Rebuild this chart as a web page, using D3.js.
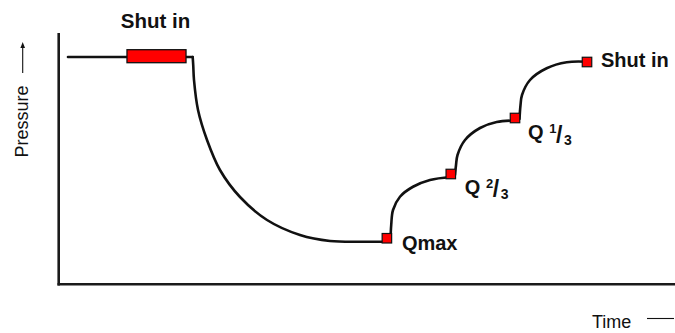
<!DOCTYPE html>
<html>
<head>
<meta charset="utf-8">
<script src="https://cdn.jsdelivr.net/npm/d3@7"></script>
<style>
  html, body { margin: 0; padding: 0; background: #fff; }
  svg { display: block; }
  text { font-family: "Liberation Sans", Arial, Helvetica, sans-serif; fill: #111; }
</style>
</head>
<body>
<svg id="chart" width="675" height="333"></svg>
<script>
// ---- data (time, pressure in arbitrary schematic units) ----
const flowTime = [1.5, 22.28];
const flowPressure = [90.8, 90.8];

const drawdownTime = [22.28, 22.37, 22.5, 23.17, 24.67, 26.83, 30.17, 34.67, 40.17, 45.17, 51.33, 54.83];
const drawdownPressure = [90.8, 87.6, 81.6, 69.6, 57.6, 45.6, 34.8, 25.6, 19.6, 17.2, 16.9, 16.9];

const build1Time = [55.25, 55.37, 55.67, 56.83, 59, 61.83, 65.33];
const build1Pressure = [17.6, 23.6, 29.6, 34.9, 38.9, 41.6, 42.8];

const build2Time = [66, 66.17, 66.42, 67.67, 70.17, 72.95, 76];
const build2Pressure = [43.6, 47.6, 51.6, 57.6, 62.4, 64.8, 65.4];

const build3Time = [76.75, 76.92, 77.17, 78.5, 81.28, 84.62, 88];
const build3Pressure = [66, 71.6, 75.6, 81.6, 86.3, 88.7, 88.9];

const shutInStart = 11.33, shutInEnd = 21.17, shutInPressure = 90.8;
const shutInLabel = "Shut in";

const markerNames = ["Qmax", "Q 2/3", "Q 1/3", "Shut in"];
const markerTime = [54.65, 65.3, 76.0, 88.0];
const markerPressure = [18.3, 44.0, 66.4, 88.8];

const yLabel = "Pressure";
const xLabel = "Time";

// ---- layout ----
const svg = d3.select("#chart");
const x = d3.scaleLinear().domain([0, 100]).range([59, 659]);
const y = d3.scaleLinear().domain([0, 100]).range([284, 34]);

// axes (no ticks in the schematic)
svg.append("line").attr("x1", 58.7).attr("x2", 58.7).attr("y1", 33).attr("y2", 285.5)
  .attr("stroke", "#1a1a1a").attr("stroke-width", 2.6);
svg.append("line").attr("x1", 57.5).attr("x2", 675).attr("y1", 284.3).attr("y2", 284.3)
  .attr("stroke", "#1a1a1a").attr("stroke-width", 2.6);

// pressure curve, drawn segment by segment
const segments = [
  [flowTime, flowPressure],
  [drawdownTime, drawdownPressure],
  [build1Time, build1Pressure],
  [build2Time, build2Pressure],
  [build3Time, build3Pressure]
];
const lineGen = d3.line().x(d => x(d[0])).y(d => y(d[1])).curve(d3.curveCatmullRom.alpha(0.5));
svg.selectAll("path.seg").data(segments).join("path").attr("class", "seg")
  .attr("d", s => lineGen(s[0].map((t, i) => [t, s[1][i]])))
  .attr("fill", "none").attr("stroke", "#111").attr("stroke-width", 2.6)
  .attr("stroke-linejoin", "round").attr("stroke-linecap", "round");

// shut-in bar
svg.append("rect")
  .attr("x", x(shutInStart)).attr("width", x(shutInEnd) - x(shutInStart))
  .attr("y", y(shutInPressure) - 7.3).attr("height", 13)
  .attr("fill", "#ff0000").attr("stroke", "#111").attr("stroke-width", 1.3);
svg.append("text").attr("x", x((shutInStart + shutInEnd) / 2) - 1).attr("y", 28)
  .attr("text-anchor", "middle").attr("font-size", 20.5).attr("font-weight", "bold")
  .text(shutInLabel);

// markers
const S = 9.5;
svg.selectAll("rect.marker").data(markerNames).join("rect").attr("class", "marker")
  .attr("x", (d, i) => x(markerTime[i]) - S / 2)
  .attr("y", (d, i) => y(markerPressure[i]) - S / 2)
  .attr("width", S).attr("height", S)
  .attr("fill", "#ff0000").attr("stroke", "#111").attr("stroke-width", 1.2);

// marker labels
const offsets = [[15, 12], [14, 19.5], [13, 21], [14, 5]];
markerNames.forEach((name, i) => {
  const t = svg.append("text")
    .attr("x", x(markerTime[i]) + offsets[i][0])
    .attr("y", y(markerPressure[i]) + offsets[i][1])
    .attr("font-size", 20).attr("font-weight", "bold");
  const m = name.match(/^(Q) (\d)\/(\d)$/);
  if (m) {
    t.append("tspan").text(m[1] + " ");
    t.append("tspan").attr("font-size", 13).attr("dy", -6).text(m[2]);
    t.append("tspan").attr("font-size", 23).attr("dy", 9.5).attr("dx", -0.3).text("/");
    t.append("tspan").attr("font-size", 14).attr("dy", 2).attr("dx", 1.5).text(m[3]);
  } else {
    t.text(name);
  }
});

// axis titles
svg.append("text").attr("transform", "translate(28,121.5) rotate(-90)")
  .attr("text-anchor", "middle").attr("font-size", 18).text(yLabel);
svg.append("line").attr("x1", 22.7).attr("x2", 22.7).attr("y1", 73).attr("y2", 46)
  .attr("stroke", "#111").attr("stroke-width", 1.1);
svg.append("path").attr("d", "M22.7,42 L20.4,48 L25,48 Z").attr("fill", "#111");

svg.append("text").attr("x", 592).attr("y", 328).attr("font-size", 18).text(xLabel);
svg.append("line").attr("x1", 647).attr("x2", 674).attr("y1", 318.5).attr("y2", 318.5)
  .attr("stroke", "#111").attr("stroke-width", 1.1);
</script>
</body>
</html>
